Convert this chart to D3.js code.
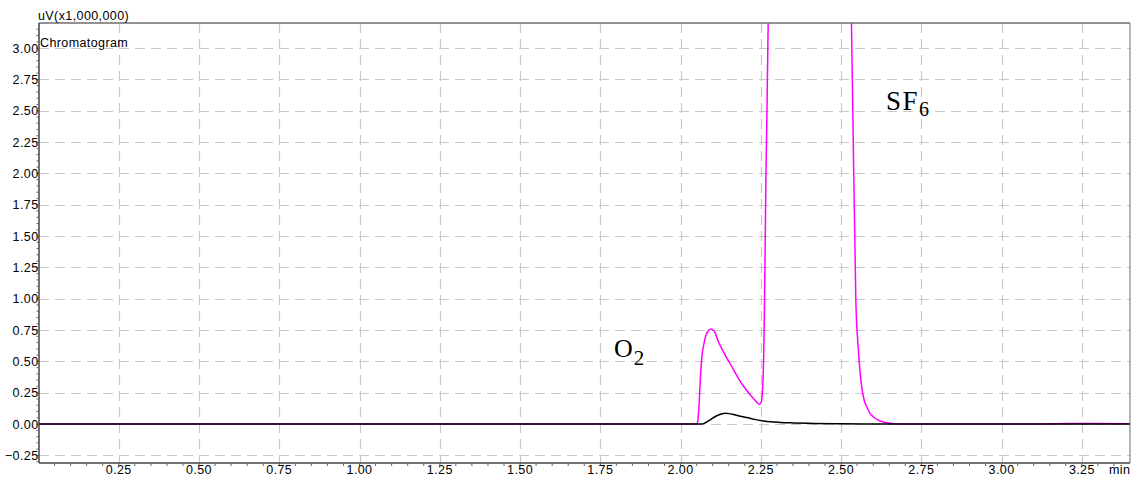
<!DOCTYPE html>
<html>
<head>
<meta charset="utf-8">
<script src="https://cdn.jsdelivr.net/npm/d3@7/dist/d3.min.js"></script>
<style>
  html, body { margin: 0; padding: 0; background: #fff; }
  svg { display: block; }
  .lbl { font-family: "Liberation Sans", Arial, sans-serif; font-size: 12.5px; letter-spacing: 0.4px; fill: #000; }
  .serif { font-family: "Liberation Serif", "Times New Roman", serif; fill: #000; }
</style>
</head>
<body>
<svg id="chart" width="1132" height="477"></svg>
<script>
// Retention time axis (min) and detector response (uV x 1,000,000)
const xTicks = [0.25, 0.50, 0.75, 1.00, 1.25, 1.50, 1.75, 2.00, 2.25, 2.50, 2.75, 3.00, 3.25];
const yTicks = [-0.25, 0.00, 0.25, 0.50, 0.75, 1.00, 1.25, 1.50, 1.75, 2.00, 2.25, 2.50, 2.75, 3.00];

// Channel 1 (magenta): O2 peak followed by the off-scale SF6 peak
const magentaTime = [0, 2.000, 2.050, 2.054, 2.058, 2.062, 2.067, 2.072, 2.078, 2.085, 2.095, 2.105,
  2.118, 2.139, 2.160, 2.180, 2.201, 2.222, 2.238, 2.245, 2.251, 2.255, 2.259, 2.261, 2.266, 2.2735,
  2.300, 2.400, 2.500, 2.530, 2.537, 2.546, 2.554, 2.564, 2.572, 2.580, 2.590, 2.600, 2.620, 2.640,
  2.660, 2.700, 3.100, 3.200, 3.300, 3.400];
const magentaValue = [0, 0, 0, 0.03, 0.17, 0.38, 0.55, 0.63, 0.70, 0.74, 0.758, 0.74,
  0.657, 0.55, 0.457, 0.365, 0.285, 0.218, 0.173, 0.157, 0.173, 0.258, 0.55, 0.87, 2.0, 3.3,
  20, 45, 12, 3.6, 2.43, 0.99, 0.59, 0.30, 0.19, 0.138, 0.085, 0.058, 0.026, 0.010,
  0.004, 0, 0, 0.004, 0.004, 0.002];

// Channel 2 (black): small response around the O2 peak
const blackTime = [0, 2.066, 2.077, 2.090, 2.103, 2.118, 2.130, 2.139, 2.150, 2.165, 2.180, 2.206,
  2.230, 2.258, 2.280, 2.310, 2.350, 2.414, 2.500, 2.600, 3.400];
const blackValue = [0, 0, 0.010, 0.030, 0.052, 0.072, 0.082, 0.085, 0.083, 0.076, 0.066, 0.052,
  0.037, 0.025, 0.018, 0.013, 0.009, 0.005, 0.002, 0, 0];

const svg = d3.select("#chart");
const plotL = 39, plotR = 1130, plotT = 23, plotB = 463;

const x = d3.scaleLinear().domain([0, 3.4]).range([38.5, 1130]);
const y = d3.scaleLinear().domain([-0.311, 3.2]).range([plotB, plotT]);

svg.append("defs").append("clipPath").attr("id", "plotClip")
  .append("rect").attr("x", plotL).attr("y", plotT).attr("width", plotR - plotL).attr("height", plotB - plotT);

// dashed grid
const grid = svg.append("g").attr("stroke", "#c9c9c9").attr("stroke-width", 1.2)
  .attr("stroke-dasharray", "10,6").attr("fill", "none");
grid.selectAll("line.h").data(yTicks).join("line").attr("class", "h")
  .attr("x1", plotL).attr("x2", plotR)
  .attr("y1", d => Math.round(y(d)) + 0.5).attr("y2", d => Math.round(y(d)) + 0.5);
grid.selectAll("line.v").data(xTicks).join("line").attr("class", "v")
  .attr("y1", plotT).attr("y2", plotB)
  .attr("x1", d => Math.round(x(d)) + 0.5).attr("x2", d => Math.round(x(d)) + 0.5);

// traces
const line = (ts, vs) => d3.line()
  .x((d, i) => x(ts[i]))
  .y(d => y(d))
  .curve(d3.curveMonotoneX)(vs);

const traces = svg.append("g").attr("clip-path", "url(#plotClip)").attr("fill", "none");
traces.append("path").attr("d", line(magentaTime, magentaValue))
  .attr("stroke", "#ff00ff").attr("stroke-width", 1.5);
traces.append("path").attr("d", line(blackTime, blackValue))
  .attr("stroke", "#000").attr("stroke-width", 1.5);

// frame
const frame = svg.append("g").attr("fill", "none");
frame.append("line").attr("x1", plotL).attr("x2", plotR).attr("y1", plotT).attr("y2", plotT)
  .attr("stroke", "#6e6e6e").attr("stroke-width", 1.5);
frame.append("line").attr("x1", plotR).attr("x2", plotR).attr("y1", plotT).attr("y2", plotB)
  .attr("stroke", "#6e6e6e").attr("stroke-width", 1);
frame.append("line").attr("x1", plotL).attr("x2", plotL).attr("y1", plotT).attr("y2", plotB)
  .attr("stroke", "#444").attr("stroke-width", 1.5);
frame.append("line").attr("x1", plotL).attr("x2", plotR).attr("y1", plotB).attr("y2", plotB)
  .attr("stroke", "#444").attr("stroke-width", 1.5);

// minor ticks
const xMinor = d3.range(1, 68).map(i => i * 0.05);
frame.selectAll("line.xm").data(xMinor).join("line").attr("class", "xm")
  .attr("x1", d => x(d)).attr("x2", d => x(d))
  .attr("y1", plotB).attr("y2", plotB + 3)
  .attr("stroke", "#666").attr("stroke-width", 1);
const yMinor = d3.range(-6, 64).map(i => i * 0.05);
frame.selectAll("line.ym").data(yMinor).join("line").attr("class", "ym")
  .attr("x1", plotL - 2.5).attr("x2", plotL)
  .attr("y1", d => y(d)).attr("y2", d => y(d))
  .attr("stroke", "#666").attr("stroke-width", 1);

// tick labels
svg.append("g").selectAll("text").data(yTicks).join("text")
  .attr("class", "lbl").attr("text-anchor", "end")
  .attr("x", 38.5).attr("y", d => y(d)).attr("dy", "0.36em")
  .text(d => d3.format(".2f")(d));
svg.append("g").selectAll("text").data(xTicks).join("text")
  .attr("class", "lbl").attr("text-anchor", "middle")
  .attr("x", d => x(d)).attr("y", 474)
  .text(d => d3.format(".2f")(d));
svg.append("text").attr("class", "lbl").attr("x", 1109).attr("y", 474).text("min");

svg.append("text").attr("class", "lbl").attr("x", 38).attr("y", 19.5).text("uV(x1,000,000)");
svg.append("text").attr("class", "lbl").attr("x", 40).attr("y", 46.5).text("Chromatogram");

// peak annotations
const o2 = svg.append("text").attr("class", "serif").attr("x", 614).attr("y", 357).style("font-size", "26px");
o2.append("tspan").style("letter-spacing", "1px").text("O");
o2.append("tspan").attr("dy", 8).style("font-size", "21px").text("2");
const sf6 = svg.append("text").attr("class", "serif").attr("x", 886).attr("y", 109.5).style("font-size", "27px");
sf6.append("tspan").style("letter-spacing", "1.5px").text("SF");
sf6.append("tspan").attr("dy", 6).style("font-size", "20px").text("6");
</script>
</body>
</html>
